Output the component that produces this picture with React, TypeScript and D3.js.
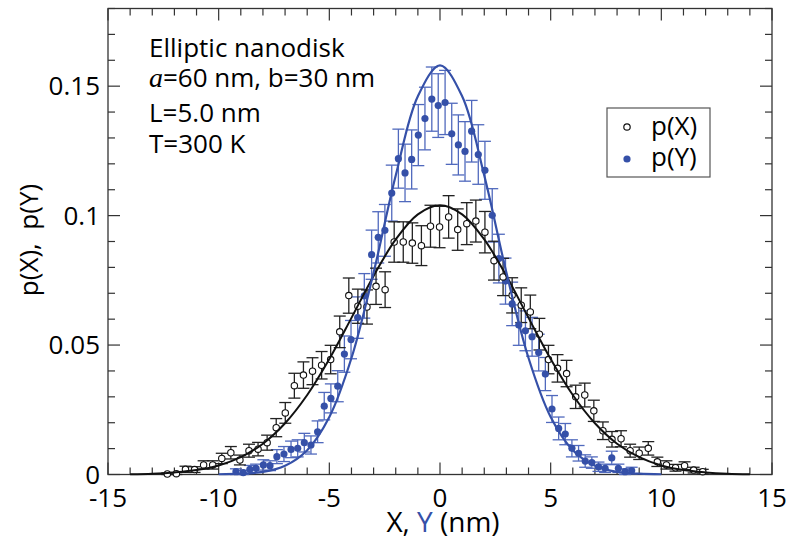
import * as d3 from "d3";
import React from "react";

// p(X): open circles
const xPosX = [-12.32, -11.91, -11.5, -11.09, -10.68, -10.27, -9.86, -9.45, -9.04, -8.63, -8.22, -7.81, -7.4, -6.99, -6.58, -6.17, -5.76, -5.35, -4.94, -4.53, -4.12, -3.71, -3.3, -2.89, -2.48, -2.07, -1.66, -1.25, -0.84, -0.43, -0.02, 0.39, 0.8, 1.21, 1.62, 2.03, 2.44, 2.85, 3.26, 3.67, 4.08, 4.49, 4.9, 5.31, 5.72, 6.13, 6.54, 6.95, 7.36, 7.77, 8.18, 8.59, 9.0, 9.41, 9.82, 10.23, 10.64, 11.05, 11.46, 11.87];
const pX = [0.0002, 0.0003, 0.002, 0.0019, 0.0037, 0.0037, 0.0062, 0.0084, 0.0056, 0.0092, 0.0098, 0.0123, 0.0181, 0.0238, 0.0343, 0.0384, 0.0399, 0.0422, 0.0444, 0.0551, 0.0691, 0.065, 0.0647, 0.0727, 0.0714, 0.0898, 0.0898, 0.0894, 0.0884, 0.0959, 0.0956, 0.0995, 0.0946, 0.0969, 0.0979, 0.0936, 0.0826, 0.0763, 0.0692, 0.0654, 0.0628, 0.0542, 0.0444, 0.041, 0.039, 0.03, 0.0307, 0.0246, 0.0169, 0.0136, 0.0138, 0.0092, 0.0082, 0.0101, 0.0049, 0.0037, 0.0026, 0.0034, 0.0017, 0.0011];
const errX = [0.0004, 0.0005, 0.0012, 0.0011, 0.0016, 0.0016, 0.002, 0.0024, 0.0019, 0.0025, 0.0026, 0.0029, 0.0035, 0.004, 0.0048, 0.0051, 0.0052, 0.0053, 0.0055, 0.0061, 0.0068, 0.0066, 0.0066, 0.007, 0.0069, 0.0078, 0.0078, 0.0078, 0.0077, 0.0081, 0.008, 0.0082, 0.008, 0.0081, 0.0081, 0.008, 0.0075, 0.0072, 0.0068, 0.0067, 0.0065, 0.0061, 0.0055, 0.0053, 0.0051, 0.0045, 0.0046, 0.0041, 0.0034, 0.003, 0.0031, 0.0025, 0.0024, 0.0026, 0.0018, 0.0016, 0.0013, 0.0015, 0.0011, 0.0009];

// p(Y): filled blue circles
const yPosY = [-9.22, -8.89, -8.59, -8.31, -7.98, -7.68, -7.37, -7.05, -6.73, -6.43, -6.13, -5.83, -5.53, -5.23, -4.93, -4.62, -4.32, -4.02, -3.72, -3.42, -3.09, -2.79, -2.49, -2.18, -1.88, -1.58, -1.28, -0.98, -0.68, -0.37, -0.08, 0.23, 0.53, 0.83, 1.13, 1.43, 1.73, 2.03, 2.36, 2.66, 2.96, 3.26, 3.56, 3.86, 4.16, 4.46, 4.76, 5.06, 5.36, 5.66, 5.96, 6.26, 6.56, 6.86, 7.16, 7.46, 7.76, 8.06, 8.36, 8.66];
const pY = [0.0011, 0.0007, 0.002, 0.0024, 0.0037, 0.0034, 0.0069, 0.0079, 0.0097, 0.0101, 0.0123, 0.0114, 0.0165, 0.0264, 0.0294, 0.0341, 0.0465, 0.0521, 0.0606, 0.069, 0.0849, 0.0916, 0.0943, 0.1087, 0.122, 0.1165, 0.1217, 0.1311, 0.1375, 0.145, 0.1425, 0.1437, 0.1316, 0.1273, 0.1248, 0.1326, 0.1236, 0.1175, 0.1001, 0.0834, 0.0747, 0.0659, 0.0577, 0.0555, 0.0532, 0.0471, 0.0388, 0.0253, 0.0178, 0.0156, 0.0101, 0.0082, 0.0052, 0.0046, 0.003, 0.0024, 0.0064, 0.0024, 0.0011, 0.0015];
const errY = [0.0011, 0.0009, 0.0015, 0.0016, 0.002, 0.0019, 0.0027, 0.0029, 0.0032, 0.0033, 0.0036, 0.0035, 0.0042, 0.0053, 0.0056, 0.006, 0.007, 0.0074, 0.008, 0.0086, 0.0095, 0.0099, 0.01, 0.0108, 0.0114, 0.0111, 0.0114, 0.0118, 0.0121, 0.0124, 0.0123, 0.0124, 0.0118, 0.0116, 0.0115, 0.0119, 0.0115, 0.0112, 0.0103, 0.0094, 0.0089, 0.0084, 0.0078, 0.0077, 0.0075, 0.0071, 0.0064, 0.0052, 0.0044, 0.0041, 0.0033, 0.003, 0.0024, 0.0022, 0.0018, 0.0016, 0.0026, 0.0016, 0.0011, 0.0013];

// fitted curves, read at 1 nm steps
const fitXPos = [-14, -13, -12, -11, -10, -9, -8, -7, -6, -5, -4, -3, -2, -1, 0, 1, 2, 3, 4, 5, 6, 7, 8, 9, 10, 11, 12, 13, 14];
const fitX = [0.0001, 0.0003, 0.0008, 0.0017, 0.0035, 0.0067, 0.0119, 0.0198, 0.0307, 0.0446, 0.0605, 0.0767, 0.0908, 0.1005, 0.104, 0.1005, 0.0908, 0.0767, 0.0605, 0.0446, 0.0307, 0.0198, 0.0119, 0.0067, 0.0035, 0.0017, 0.0008, 0.0003, 0.0001];
const fitYPos = [-10, -9, -8, -7, -6, -5, -4, -3, -2, -1, 0, 1, 2, 3, 4, 5, 6, 7, 8, 9, 10];
const fitY = [0.0001, 0.0003, 0.001, 0.0034, 0.0094, 0.0222, 0.045, 0.078, 0.1155, 0.1461, 0.158, 0.1461, 0.1155, 0.078, 0.045, 0.0222, 0.0094, 0.0034, 0.001, 0.0003, 0.0001];

const xTicks = [-15, -10, -5, 0, 5, 10, 15];
const yTicks = [0, 0.05, 0.1, 0.15];
const yTickLabels = ["0", "0.05", "0.1", "0.15"];
const notes = ["Elliptic nanodisk", "L=5.0 nm", "T=300 K"];

const BLACK = "#111";
const BLUE = "#3550a8";
const BLUE_BAR = "#5069bd";
const FONT = "'Open Sans', sans-serif";

export default function App() {
  const x = d3.scaleLinear().domain([-15, 15]).range([108, 772]);
  const y = d3.scaleLinear().domain([0, 0.18]).range([474.5, 8.5]);
  const [x0, x1] = x.range();
  const [y0, y1] = y.range();

  const line = d3
    .line<[number, number]>()
    .x((d) => x(d[0]))
    .y((d) => y(d[1]))
    .curve(d3.curveCatmullRom.alpha(0.5));

  const blackFit = line(fitXPos.map((v, i) => [v, fitX[i]]));
  const blueFit = line(fitYPos.map((v, i) => [v, fitY[i]]));

  const cap = 6;
  const bars = (xs: number[], ps: number[], es: number[], color: string) =>
    xs.map((v, i) => {
      const cx = x(v);
      const top = y(ps[i] + es[i]);
      const bot = y(Math.max(0, ps[i] - es[i]));
      return (
        <g key={i} stroke={color} strokeWidth={1.3}>
          <line x1={cx} x2={cx} y1={top} y2={bot} />
          <line x1={cx - cap} x2={cx + cap} y1={top} y2={top} />
          <line x1={cx - cap} x2={cx + cap} y1={bot} y2={bot} />
        </g>
      );
    });

  const minorX = x.ticks(30);
  const minorY = y.ticks(18);

  return (
    <svg
      width={790}
      height={540}
      style={{ position: "absolute", left: 0, top: 0, background: "#fff" }}
      fontFamily={FONT}
    >
      {/* ticks on all four sides */}
      <g stroke="#333" strokeWidth={1.2}>
        {minorX.map((t) => {
          const major = t % 5 === 0;
          const len = major ? 12 : 7;
          return (
            <g key={"x" + t}>
              <line x1={x(t)} x2={x(t)} y1={y0} y2={y0 - len} />
              <line x1={x(t)} x2={x(t)} y1={y1} y2={y1 + len} />
            </g>
          );
        })}
        {minorY.map((t, i) => {
          const major = i % 5 === 0;
          const len = major ? 12 : 7;
          return (
            <g key={"y" + i}>
              <line x1={x0} x2={x0 + len} y1={y(t)} y2={y(t)} />
              <line x1={x1} x2={x1 - len} y1={y(t)} y2={y(t)} />
            </g>
          );
        })}
      </g>
      <rect x={x0} y={y1} width={x1 - x0} height={y0 - y1} fill="none" stroke="#333" strokeWidth={1.3} />

      {xTicks.map((t) => (
        <text key={t} x={x(t)} y={507} textAnchor="middle" fontSize={26} fill="#000">
          {t}
        </text>
      ))}
      {yTicks.map((t, i) => (
        <text key={t} x={100} y={y(t)} dy="0.35em" textAnchor="end" fontSize={26} fill="#000">
          {yTickLabels[i]}
        </text>
      ))}

      <text x={443} y={532} textAnchor="middle" fontSize={28} fill="#000">
        X, <tspan fill={BLUE}>Y</tspan> (nm)
      </text>
      <text
        transform="translate(38,240) rotate(-90)"
        textAnchor="middle"
        fontSize={26}
        fill="#000"
        style={{ whiteSpace: "pre" }}
      >
        {"p(X),  p(Y)"}
      </text>

      {/* annotation */}
      <g fontSize={26} fill="#000">
        <text x={149} y={57}>{notes[0]}</text>
        <text x={149} y={87}>
          <tspan fontFamily="'Liberation Serif', serif" fontStyle="italic" fontSize={28}>a</tspan>=60 nm, b=30 nm
        </text>
        <text x={149} y={122}>{notes[1]}</text>
        <text x={149} y={153}>{notes[2]}</text>
      </g>

      {/* legend */}
      <rect x={607} y={108} width={103} height={69} fill="#fff" stroke="#555" strokeWidth={1.2} />
      <circle cx={627} cy={127} r={3.2} fill="#fff" stroke={BLACK} strokeWidth={1.2} />
      <circle cx={627} cy={159} r={3.6} fill={BLUE} />
      <text x={651} y={135} fontSize={26} fill="#000">p(X)</text>
      <text x={651} y={166} fontSize={26} fill="#000">p(Y)</text>

      {/* data */}
      {bars(yPosY, pY, errY, BLUE_BAR)}
      {bars(xPosX, pX, errX, "#222")}
      {yPosY.map((v, i) => (
        <circle key={"b" + i} cx={x(v)} cy={y(pY[i])} r={3.6} fill={BLUE} />
      ))}
      {xPosX.map((v, i) => (
        <circle key={"k" + i} cx={x(v)} cy={y(pX[i])} r={3.2} fill="#fff" stroke={BLACK} strokeWidth={1.1} />
      ))}
      <path d={blackFit ?? ""} fill="none" stroke={BLACK} strokeWidth={2} />
      <path d={blueFit ?? ""} fill="none" stroke={BLUE} strokeWidth={2.2} />
    </svg>
  );
}
